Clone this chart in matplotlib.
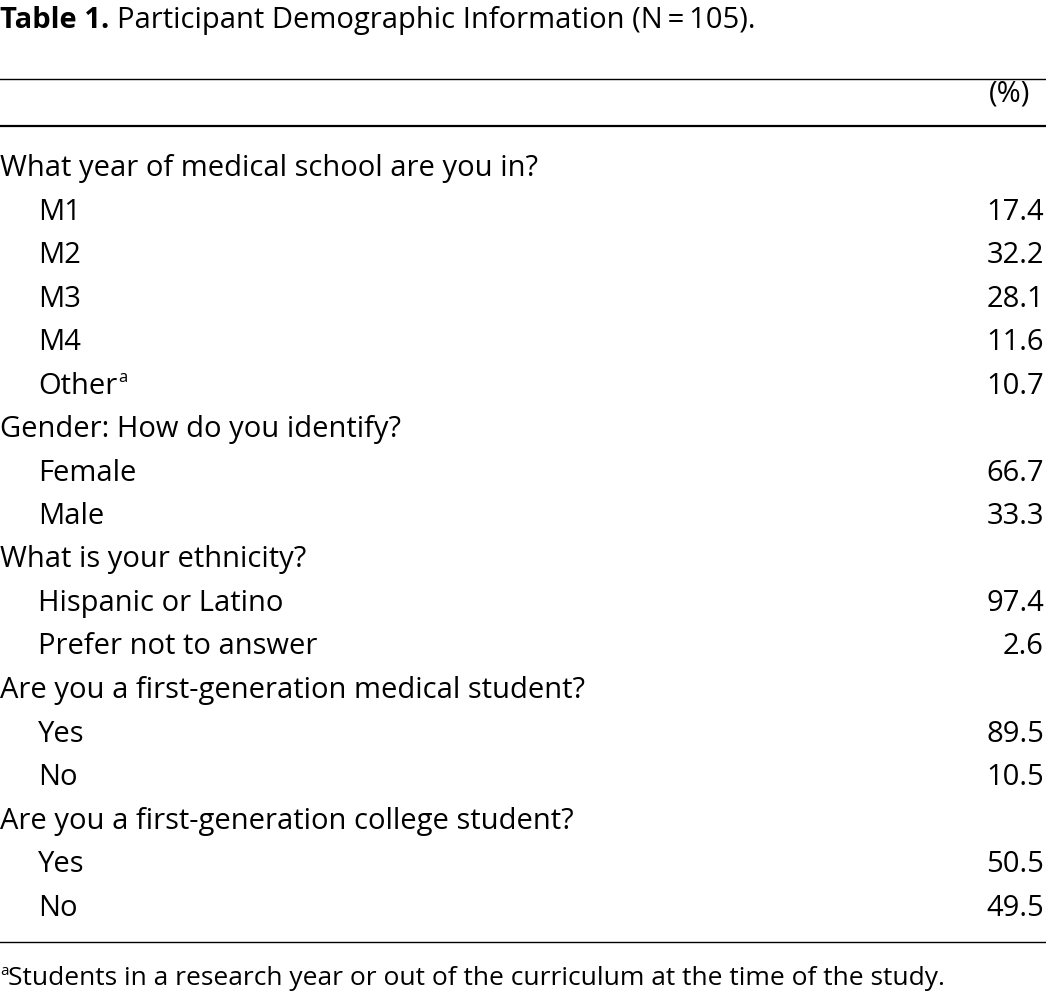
import matplotlib
matplotlib.use("Agg")
import matplotlib.pyplot as plt

title_bold = "Table 1."
title_rest = "Participant Demographic Information (N\u2009=\u2009105)."
col_header = "(%)"
rows = [
    ("What year of medical school are you in?", None, 0),
    ("M1", "17.4", 1), ("M2", "32.2", 1), ("M3", "28.1", 1), ("M4", "11.6", 1),
    ("Other", "10.7", 1),
    ("Gender: How do you identify?", None, 0),
    ("Female", "66.7", 1), ("Male", "33.3", 1),
    ("What is your ethnicity?", None, 0),
    ("Hispanic or Latino", "97.4", 1), ("Prefer not to answer", "2.6", 1),
    ("Are you a first-generation medical student?", None, 0),
    ("Yes", "89.5", 1), ("No", "10.5", 1),
    ("Are you a first-generation college student?", None, 0),
    ("Yes", "50.5", 1), ("No", "49.5", 1),
]
footnote = "Students in a research year or out of the curriculum at the time of the study."

W, H = 1046, 996
fig = plt.figure(figsize=(W/100, H/100), dpi=100)
FONT = ["Open Sans", "DejaVu Sans"]
FS = 21

def px(x, y):
    return x / W, 1 - y / H

def txt(x, y, s, **kw):
    kw.setdefault("fontsize", FS)
    kw.setdefault("family", FONT)
    kw.setdefault("va", "baseline")
    return fig.text(*px(x, y), s, **kw)

def hline(y, lw):
    fig.add_artist(plt.Line2D([0, 1], [1 - y/H]*2, color="black", lw=lw, transform=fig.transFigure))

fig.canvas.draw()
r = fig.canvas.get_renderer()
t = txt(0, 28, title_bold, weight="bold")
bb = t.get_window_extent(r)
txt(bb.x1 + 8, 28, title_rest)

hline(79, 1.0)
txt(1030, 101, col_header, ha="right")
hline(126, 1.6)

y0, dy = 176, 43.5
for i, (label, val, ind) in enumerate(rows):
    y = y0 + i * dy
    x = 38 if ind else 0
    t = txt(x, y, label)
    if label == "Other":
        bb = t.get_window_extent(r)
        txt(bb.x1 + 1, y - 12, "a", fontsize=12)
    if val:
        txt(1044, y, val, ha="right")

hline(942, 1.0)
txt(0, 975, "a", fontsize=11)
txt(8, 985, footnote, fontsize=19)

fig.savefig("out.png", dpi=100)
